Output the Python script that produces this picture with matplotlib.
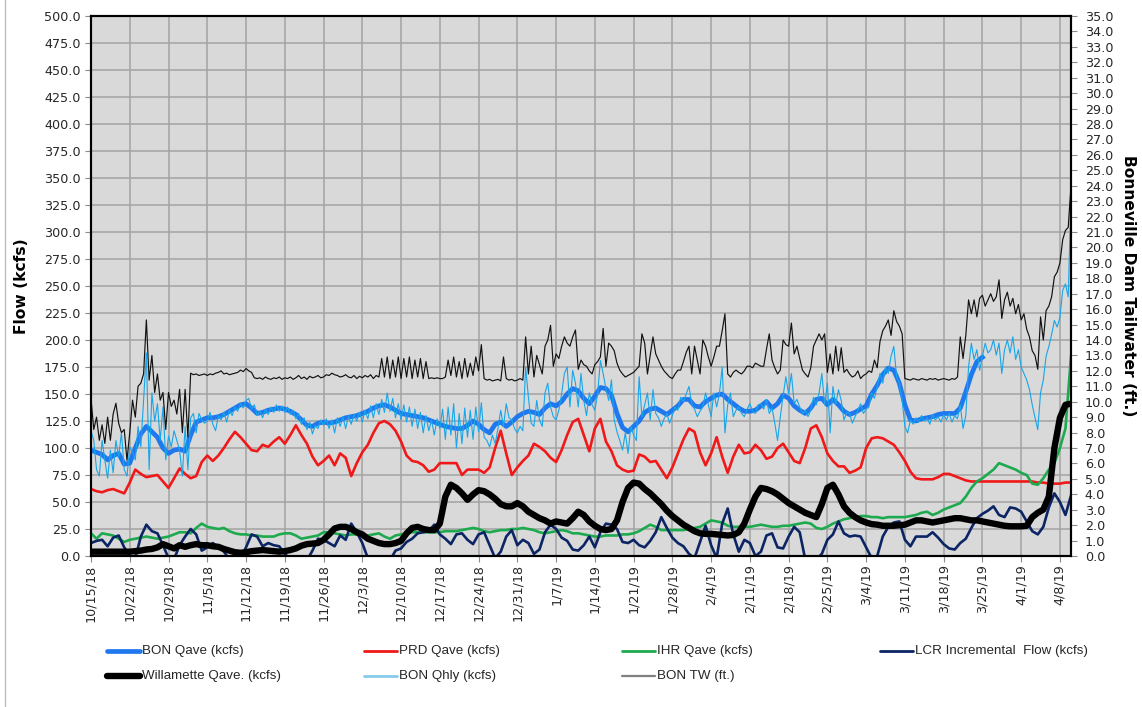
import pandas as pd
import matplotlib
matplotlib.use("Agg")
import matplotlib.pyplot as plt
from matplotlib.lines import Line2D
from matplotlib.ticker import FormatStrFormatter

START = "2018-10-15"

# ---- daily series (kcfs), one value per day starting 10/15/18 ----
bon_qave = [
    98, 96, 94, 89, 93, 95, 85,
    86, 100, 113, 120, 115, 110, 100,
    95, 98, 99, 97, 112, 124, 126,
    128, 128, 129, 131, 134, 137, 140,
    141, 137, 132, 133, 135, 136, 137,
    136, 134, 131, 126, 121, 120, 123,
    124, 123, 124, 126, 128, 129, 130,
    132, 134, 137, 139, 140, 138, 135,
    132, 131, 130, 129, 128, 126, 124,
    122, 120, 119, 118, 118, 121, 125,
    122, 117, 114, 122, 124, 120, 124,
    129, 132, 134, 133, 131, 137, 141,
    139, 143, 150, 155, 153, 146, 141,
    148, 156, 155, 149, 132, 119, 115,
    120, 125, 133, 136, 137, 134, 131,
    135, 139, 145, 145, 139, 138, 143,
    146, 149, 150, 145, 141, 137, 134,
    134, 135, 139, 143, 137, 141, 149,
    146, 139, 135, 132, 137, 145, 146,
    140, 145, 140, 134, 131, 133, 136,
    139, 150, 158, 168, 174, 172, 160,
    140, 126, 125, 127, 128, 129, 131,
    132, 132, 132, 137, 152, 168, 180,
    184,
]

prd_qave = [
    62, 60, 59, 61, 62, 60, 58,
    68, 80, 76, 73, 74, 75, 69,
    63, 72, 81, 76, 72, 74, 87,
    93, 88, 93, 100, 108, 115, 110,
    104, 98, 97, 103, 101, 106, 110,
    104, 112, 121, 112, 104, 92, 84,
    88, 93, 84, 95, 91, 74, 86,
    96, 103, 114, 123, 125, 122, 116,
    106, 93, 88, 87, 84, 78, 80,
    86, 86, 86, 86, 75, 80, 80,
    80, 77, 82, 100, 116, 95, 75,
    82, 88, 93, 104, 101, 97, 91,
    87, 98, 112, 124, 127, 112, 97,
    118, 127, 106, 97, 84, 80, 78,
    79, 94, 92, 87, 88, 80, 72,
    82, 95, 108, 118, 115, 96, 84,
    95, 110, 92, 77, 92, 103, 95,
    96, 103, 98, 90, 92, 100, 104,
    96, 88, 86, 100, 118, 121, 110,
    95, 88, 83, 83, 77, 79, 82,
    100, 109, 110, 109, 106, 103, 96,
    88, 78, 72, 71, 71, 71, 73,
    76, 76, 74, 72, 70, 69, 69,
    69, 69, 69, 69, 69, 69, 69,
    69, 69, 69, 68, 68, 67, 67,
    67, 68, 68,
]

ihr_qave = [
    21, 16, 21, 20, 19, 16, 13,
    15, 16, 17, 18, 17, 16, 17,
    18, 20, 22, 22, 21, 26, 30,
    27, 26, 25, 26, 23, 21, 20,
    20, 19, 19, 18, 18, 18, 20,
    21, 21, 19, 16, 17, 18, 19,
    22, 22, 21, 20, 19, 20, 20,
    19, 19, 20, 21, 18, 16, 19,
    20, 21, 22, 22, 22, 22, 22,
    22, 23, 23, 23, 24, 25, 26,
    25, 23, 22, 23, 24, 24, 25,
    25, 26, 25, 24, 22, 21, 22,
    23, 24, 23, 21, 21, 20, 19,
    18, 18, 19, 19, 19, 20, 20,
    21, 23, 26, 29, 27, 24, 24,
    24, 24, 24, 25, 26, 27, 30,
    33, 32, 31, 28, 27, 27, 27,
    27, 28, 29, 28, 27, 27, 28,
    28, 29, 30, 31, 30, 26, 25,
    27, 30, 32, 34, 35, 36, 37,
    37, 36, 36, 35, 36, 36, 36,
    36, 37, 38, 40, 41, 38, 40,
    43, 45, 47, 49, 55, 63, 69,
    72, 76, 80, 86, 84, 82, 80,
    77, 75, 67, 66, 72, 80, 86,
    100, 118, 185,
]

lcr_incremental = [
    12, 14, 15, 9, 17, 19, 8,
    0, -2, 18, 29, 23, 21, 10,
    -2, -3, 10, 18, 25, 20, 5,
    8, 12, 8, 4, -3, -5, -2,
    8, 20, 18, 9, 12, 10, 9,
    2, -3, -5, -8, -4, 5, 16,
    15, 12, 9, 19, 15, 30, 22,
    12, -2, -8, -10, -8, -4, 5,
    7, 13, 16, 21, 22, 23, 29,
    20, 16, 11, 20, 21, 15, 11,
    20, 22, 10, -2, 4, 18, 24,
    10, 15, 12, 2, 6, 22, 29,
    25, 17, 14, 6, 5, 10, 18,
    8, 22, 30, 29, 25, 13, 12,
    15, 10, 8, 14, 22, 36, 26,
    17, 12, 9, 2, -2, 13, 28,
    10, -2, 30, 44, 20, 4, 15,
    12, 0, 4, 19, 21, 8, 7,
    18, 27, 22, -3, -8, -3, 2,
    15, 20, 32, 21, 18, 19, 18,
    8, -2, 0, 18, 27, 31, 32,
    15, 9, 18, 18, 18, 22, 17,
    11, 7, 6, 12, 16, 26, 35,
    39, 42, 46, 38, 36, 45, 44,
    41, 32, 23, 20, 27, 45, 58,
    50, 38, 56,
]

willamette_qave = [
    4, 4, 4, 4, 4, 4, 4,
    4, 4.5, 5, 6, 6.5, 8, 11,
    9, 7, 10, 8.5, 10, 11, 10,
    10, 9, 8.5, 6.5, 5, 3.5, 3,
    3.5, 4.5, 5, 5.5, 5, 4.5, 4,
    4.5, 5.5, 7, 9.5, 11, 11.5, 12,
    15, 20, 25.5, 27, 27, 25, 22,
    20, 16, 14, 12, 11, 11, 12,
    14, 21, 26, 27, 25, 24, 24,
    30, 55, 66, 63, 58, 52, 57,
    61, 60, 57, 53, 48, 46, 46,
    49, 46, 41, 38, 35, 33, 30,
    32, 31, 30, 35, 41, 38, 32,
    28, 25, 24, 25, 33, 50, 63,
    68, 67, 62, 58, 53, 48, 42,
    37, 33, 29, 26, 23, 21, 20.5,
    20.5, 20, 19.5, 19, 19.5, 22, 30,
    43, 55, 63, 62, 60, 57, 53,
    49, 46, 43, 40, 38, 36, 48,
    63, 66, 57, 46, 40, 36, 33,
    31, 29.5, 29, 28, 28, 28, 28.5,
    29, 31, 33, 33, 32, 31, 32,
    33, 34, 35, 35, 34, 33, 33,
    32, 31, 30, 29, 28, 27.5, 27.5,
    27.5, 28, 36, 40, 43, 55, 100,
    128, 140, 141,
]

# ---- twice-daily series (00:00 and 12:00), weeks starting on Mondays ----
bon_qhly = [
    116, 107, 80, 74, 107, 89, 72, 98, 77, 107, 92, 114, 80, 74,          # 10/15
    101, 96, 89, 120, 101, 144, 188, 80, 151, 125, 141, 107, 138, 89,     # 10/22
    111, 101, 116, 107, 98, 74, 120, 80, 128, 132, 114, 132, 126, 123,    # 10/29
    125, 133, 122, 116, 130, 126, 133, 124, 135, 130, 138, 134, 141, 137, # 11/5
    144, 146, 136, 140, 130, 134, 128, 136, 131, 138, 133, 140, 134, 139, # 11/12
    133, 138, 131, 135, 127, 132, 122, 128, 117, 124, 113, 121, 118, 126, # 11/19
    121, 127, 118, 126, 114, 128, 120, 129, 118, 130, 122, 131, 125, 133, # 11/26
    124, 135, 127, 139, 128, 141, 131, 145, 133, 151, 134, 146, 128, 141, # 12/3
    126, 140, 124, 138, 120, 136, 118, 133, 114, 130, 116, 126, 112, 127, # 12/10
    118, 136, 108, 138, 112, 141, 100, 132, 104, 137, 110, 135, 108, 138, # 12/17
    115, 142, 110, 107, 101, 112, 104, 118, 135, 120, 141, 128, 126, 118, # 12/24
    114, 120, 116, 175, 147, 123, 120, 144, 126, 120, 151, 160, 138, 129, # 12/31
    126, 135, 150, 169, 175, 138, 172, 160, 138, 169, 144, 130, 151, 140, # 1/7
    135, 150, 181, 169, 155, 144, 163, 126, 115, 107, 98, 114, 95, 120,   # 1/14
    112, 107, 166, 129, 140, 151, 126, 154, 132, 128, 120, 127, 132, 123, # 1/21
    130, 138, 135, 147, 143, 150, 157, 141, 136, 129, 134, 138, 151, 140, # 1/28
    129, 151, 138, 150, 175, 114, 140, 151, 129, 135, 138, 132, 129, 136, # 2/4
    141, 134, 132, 140, 141, 136, 145, 132, 137, 123, 107, 129, 148, 166, # 2/11
    150, 169, 141, 145, 138, 132, 135, 129, 135, 147, 140, 151, 169, 140, # 2/18
    160, 114, 157, 140, 154, 144, 126, 133, 132, 123, 129, 135, 141, 132, # 2/25
    136, 138, 151, 146, 157, 169, 160, 175, 169, 185, 194, 166, 160, 144, # 3/4
    120, 114, 126, 122, 128, 124, 130, 125, 128, 122, 131, 126, 129, 124, # 3/11
    131, 126, 132, 124, 130, 127, 140, 118, 130, 175, 197, 182, 191, 172, # 3/18
    185, 197, 188, 191, 200, 186, 197, 169, 191, 200, 188, 203, 182, 191, # 3/25
    175, 169, 163, 154, 140, 128, 117, 151, 163, 185, 194, 205, 218, 212, # 4/1
    221, 246, 252, 240, 335,                                              # 4/8
]

bon_tw = [
    10.2, 8.2, 9.0, 7.5, 8.5, 7.3, 9.0, 7.5, 9.2, 9.9, 8.6, 8.0, 8.2, 6.2,                # 10/15
    8.0, 10.1, 9.0, 11.0, 11.2, 11.8, 15.3, 11.4, 13.0, 10.6, 11.8, 10.1, 10.6, 8.2,      # 10/22
    10.6, 9.7, 10.1, 9.2, 10.8, 8.0, 10.8, 7.7, 11.85, 11.75, 11.8, 11.7, 11.75, 11.8,    # 10/29
    11.7, 11.8, 11.75, 11.85, 11.9, 12.0, 11.8, 11.85, 11.75, 11.8, 11.85, 11.9, 12.05, 11.95,  # 11/5
    12.15, 12.0, 11.9, 11.55, 11.5, 11.55, 11.45, 11.6, 11.5, 11.45, 11.55, 11.5, 11.6, 11.45,  # 11/12
    11.55, 11.5, 11.6, 11.45, 11.55, 11.7, 11.5, 11.6, 11.45, 11.65, 11.55, 11.6, 11.7, 11.55,  # 11/19
    11.6, 11.75, 11.7, 11.85, 11.75, 11.7, 11.6, 11.65, 11.75, 11.6, 11.55, 11.7, 11.5, 11.65,  # 11/26
    11.55, 11.7, 11.6, 11.75, 11.5, 11.7, 11.6, 12.8, 11.6, 12.9, 11.5, 12.7, 11.6, 12.9,      # 12/3
    11.5, 12.8, 11.6, 12.9, 11.5, 12.7, 11.6, 12.8, 11.5, 12.6, 11.5, 11.55, 11.5, 11.55,      # 12/10
    11.5, 11.5, 11.6, 12.7, 11.7, 12.9, 11.6, 12.6, 11.5, 12.8, 11.6, 12.5, 11.7, 12.9,        # 12/17
    12.0, 13.7, 11.5, 11.4, 11.45, 11.35, 11.4, 11.45, 11.35, 12.9, 11.5, 11.4, 11.45, 11.35,  # 12/24
    11.4, 11.5, 11.4, 14.2, 11.8, 13.6, 11.6, 13.0, 12.4, 11.8, 13.6, 14.0, 14.95, 12.3,       # 12/31
    13.1, 12.8, 13.6, 14.2, 13.8, 13.6, 14.2, 14.65, 12.1, 12.7, 12.4, 12.3, 12.0, 11.8,       # 1/7
    12.4, 12.6, 12.9, 14.75, 12.3, 13.8, 13.6, 13.3, 12.5, 12.05, 11.8, 11.6, 11.7, 11.8,      # 1/14
    11.9, 12.1, 12.3, 14.4, 13.8, 11.8, 13.0, 14.2, 13.1, 12.7, 12.3, 12.0, 11.8, 11.6,        # 1/21
    11.5, 11.8, 12.05, 12.05, 12.6, 13.2, 13.6, 11.8, 13.6, 12.7, 11.8, 14.0, 13.6, 12.9,      # 1/28
    12.3, 12.9, 13.6, 13.6, 14.6, 15.7, 11.8, 11.6, 11.9, 12.05, 11.9, 11.8, 12.0, 12.3,       # 2/4
    12.3, 12.2, 12.5, 12.4, 12.3, 12.3, 13.4, 14.4, 12.7, 12.2, 11.8, 12.05, 14.0, 13.7,       # 2/11
    13.6, 15.1, 13.1, 13.6, 12.8, 12.05, 11.8, 11.6, 12.2, 13.6, 14.0, 14.4, 14.0, 14.4,       # 2/18
    11.9, 13.1, 11.8, 13.6, 12.0, 13.5, 11.9, 12.1, 11.8, 11.6, 11.7, 12.0, 11.5, 11.7,        # 2/25
    11.8, 12.0, 11.9, 12.7, 12.2, 13.9, 14.6, 14.9, 15.3, 14.3, 15.9, 15.2, 14.9, 14.4,        # 3/4
    11.5, 11.45, 11.4, 11.5, 11.45, 11.4, 11.5, 11.45, 11.4, 11.5, 11.45, 11.5, 11.4, 11.45,   # 3/11
    11.5, 11.45, 11.4, 11.5, 11.45, 11.6, 14.2, 12.8, 14.3, 16.6, 15.7, 16.6, 15.5, 16.7,      # 3/18
    16.9, 16.2, 16.6, 17.0, 16.5, 16.8, 17.9, 15.4, 16.6, 17.1, 16.2, 16.7, 15.7, 16.3,        # 3/25
    15.3, 15.7, 14.7, 14.2, 13.3, 13.0, 12.1, 15.5, 14.0, 15.9, 16.2, 16.8, 18.1, 18.4,        # 4/1
    19.0, 20.5, 21.1, 21.3, 24.0,                                                              # 4/8
]

legend_labels = [
    "BON Qave (kcfs)", "PRD Qave (kcfs)", "IHR Qave (kcfs)", "LCR Incremental  Flow (kcfs)",
    "Willamette Qave. (kcfs)", "BON Qhly (kcfs)", "BON TW (ft.)",
]

# ---- time axes ----
day = pd.date_range(START, periods=len(prd_qave), freq="D")
bon_day = pd.date_range(START, periods=len(bon_qave), freq="D")
half = pd.date_range(START, periods=len(bon_qhly), freq="12h")
tw_half = pd.date_range(START, periods=len(bon_tw), freq="12h")

# ---- colours ----
C_BON = "#1F78EE"
C_PRD = "#F01818"
C_IHR = "#1DAA4E"
C_LCR = "#0B2464"
C_WIL = "#000000"
C_QHLY = "#17A6EA"
C_TW = "#111111"

W, H = 1142, 707
fig = plt.figure(figsize=(W / 100, H / 100), dpi=100)
fig.patch.set_facecolor("white")

ax = fig.add_axes([91 / W, 1 - 556 / H, (1071 - 91) / W, (556 - 16) / H])
ax.set_facecolor("#D9D9D9")
ax2 = ax.twinx()

ax.plot(bon_day, bon_qave, color=C_BON, lw=3.4, solid_joinstyle="round", zorder=3)
ax.plot(day, prd_qave, color=C_PRD, lw=1.9, solid_joinstyle="round", zorder=3)
ax.plot(day, ihr_qave, color=C_IHR, lw=1.9, solid_joinstyle="round", zorder=3)
ax.plot(day, lcr_incremental, color=C_LCR, lw=1.9, solid_joinstyle="round", zorder=3)
ax.plot(day, willamette_qave, color=C_WIL, lw=4.6, solid_joinstyle="round",
        solid_capstyle="round", zorder=3)
ax.plot(half, bon_qhly, color=C_QHLY, lw=0.8, zorder=3)
ax2.plot(tw_half, bon_tw, color=C_TW, lw=0.85)

# ---- axes, ticks, grid ----
x0 = pd.Timestamp(START)
ax.set_xlim(x0, x0 + pd.Timedelta(days=177))
ticks = pd.date_range(START, "2019-04-08", freq="7D")
ax.set_xticks(ticks)
ax.set_xticklabels([f"{t.month}/{t.day}/{t:%y}" for t in ticks], rotation=90)

ax.set_ylim(0, 500)
ax.set_yticks(range(0, 501, 25))
ax.yaxis.set_major_formatter(FormatStrFormatter("%.1f"))
ax2.set_ylim(0, 35)
ax2.set_yticks(range(0, 36))
ax2.yaxis.set_major_formatter(FormatStrFormatter("%.1f"))

ax.grid(True, color="#A3A3A3", lw=1.1)
ax.set_axisbelow(True)

tick_kw = dict(direction="out", length=4, width=0.8, color="#8C8C8C",
               labelsize=9.2, labelcolor="#262626")
ax.tick_params(axis="x", pad=2, **tick_kw)
ax.tick_params(axis="y", pad=3.5, **tick_kw)
ax2.tick_params(axis="y", pad=6, **tick_kw)

for a in (ax, ax2):
    for sp in a.spines.values():
        sp.set_color("black")
        sp.set_linewidth(1.5)

fig.text(22 / W, 1 - 286 / H, "Flow (kcfs)", rotation=90, ha="center", va="center",
         fontsize=11.2, fontweight="bold", color="black")
fig.text(1128 / W, 1 - 286 / H, "Bonneville Dam Tailwater (ft.)", rotation=-90,
         ha="center", va="center", fontsize=11.2, fontweight="bold", color="black")

# ---- legend below the plot ----
legend_style = [
    (C_BON, 3.4), (C_PRD, 2.0), (C_IHR, 2.0), (C_LCR, 2.0),
    (C_WIL, 4.6), ("#86CBEA", 2.0), ("#808080", 1.6),
]
col_x = [107, 364, 622, 880]
row_y = [651, 676]
for i, (label, (col, lw)) in enumerate(zip(legend_labels, legend_style)):
    cx = col_x[i % 4]
    ry = row_y[i // 4]
    fig.add_artist(Line2D([cx / W, (cx + 33) / W], [1 - ry / H, 1 - ry / H],
                          transform=fig.transFigure, color=col, lw=lw,
                          solid_capstyle="round"))
    fig.text((cx + 35) / W, 1 - ry / H, label, ha="left", va="center",
             fontsize=9.6, color="#262626",
             family=["Liberation Sans", "DejaVu Sans"])

# thin chart-area border on the left
fig.add_artist(Line2D([4.5 / W, 4.5 / W], [0, 1], transform=fig.transFigure,
                      color="#BDBDBD", lw=1))

fig.savefig("out.png", dpi=100)
